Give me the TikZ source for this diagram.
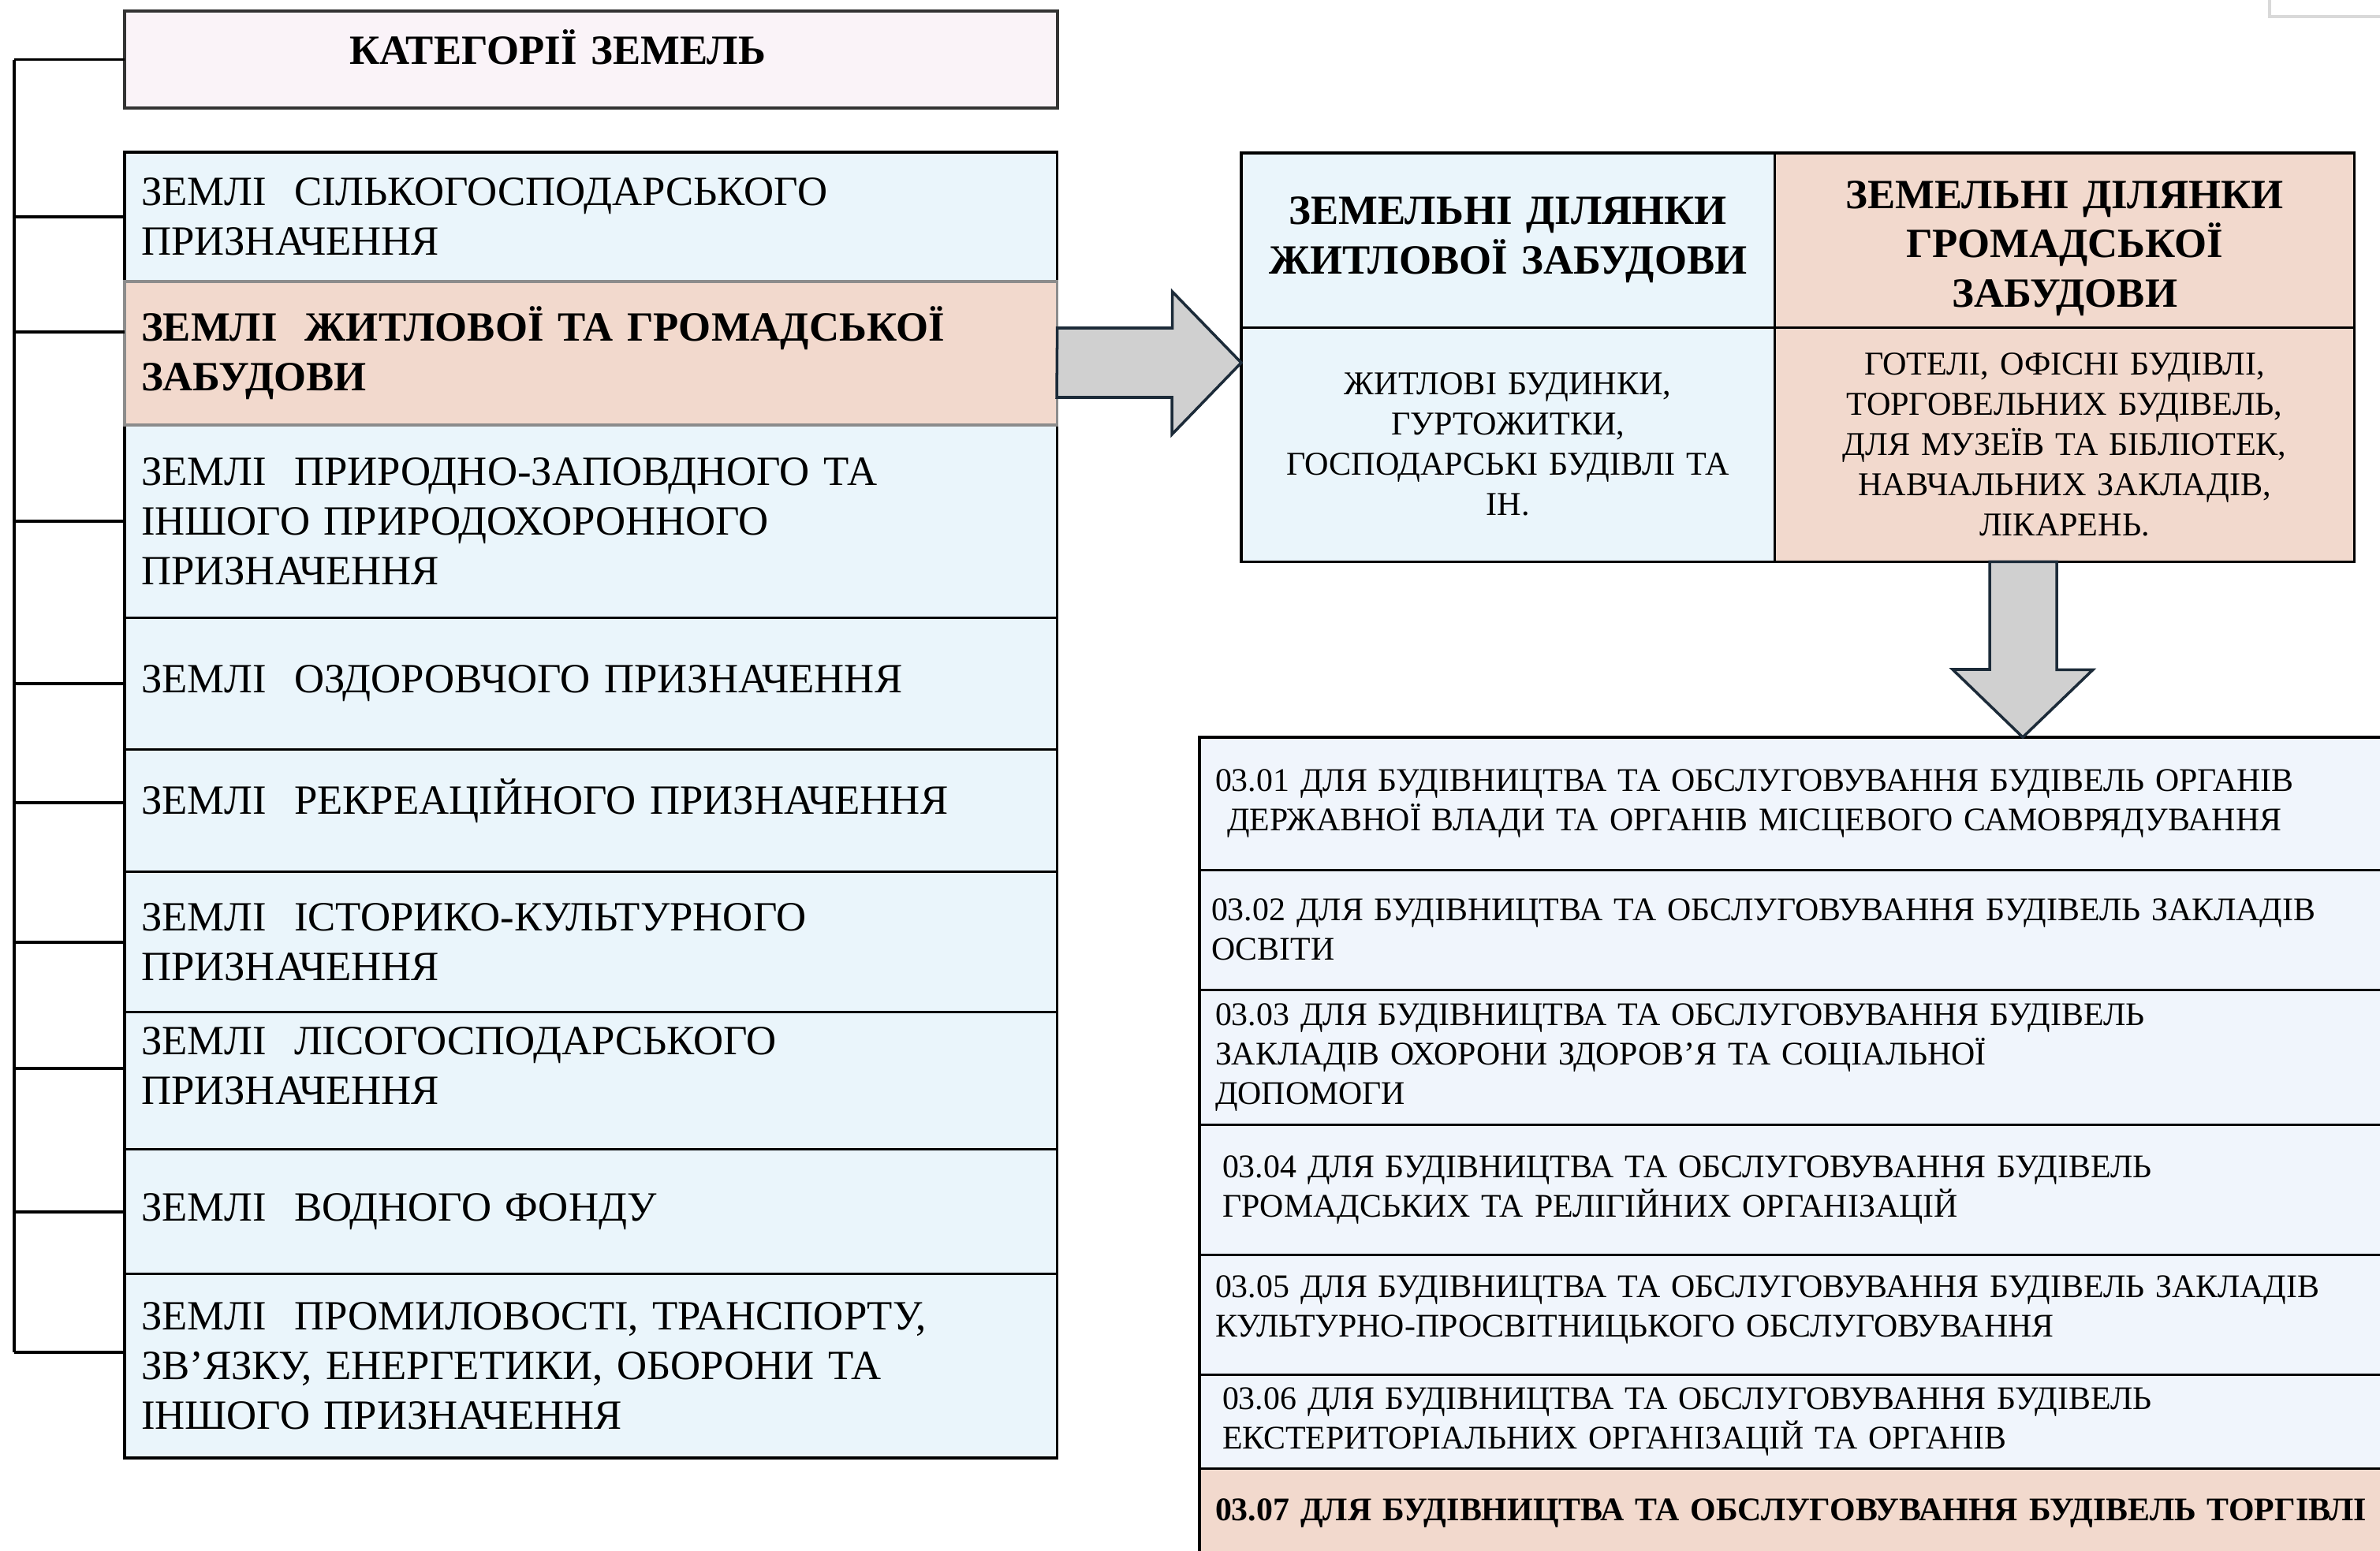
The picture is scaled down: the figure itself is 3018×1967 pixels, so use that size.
\documentclass[tikz,border=0pt]{standalone}
\usepackage{fontspec}
\setmainfont{Liberation Serif}
\usepackage{tikz}
\usetikzlibrary{calc,positioning}
\definecolor{rozh}{HTML}{FAF3F8}
\definecolor{blakyt}{HTML}{EAF5FB}
\definecolor{persyk}{HTML}{F2D9CD}
\definecolor{svitlo}{HTML}{F0F5FC}
\definecolor{siryi}{HTML}{D0D0D0}
\definecolor{temno}{HTML}{1C2B39}
\tikzset{
    zemlya/.style={draw,line width=0.9pt,fill=blakyt,outer sep=0pt,inner xsep=0.21cm,inner ysep=0pt,text width=11.40cm,align=left,minimum height=#1,node font=\fontsize{15pt}{17.9pt}\selectfont},
    zemlyavyb/.style={zemlya=#1,fill=persyk,node font=\bfseries\fontsize{15pt}{17.9pt}\selectfont},
    titul/.style={draw=black!80,line width=1.2pt,fill=rozh,outer sep=0pt,inner xsep=0.21cm,inner ysep=0pt,text width=11.40cm,align=left,minimum height=1.23cm,text depth=0.32cm,node font=\bfseries\fontsize{15pt}{17.9pt}\selectfont},
    klityna/.style={draw,line width=0.9pt,outer sep=0pt,inner xsep=0.15cm,inner ysep=0pt,align=center,text width=#1},
    tabholova/.style={klityna=#1,minimum height=2.21cm,node font=\bfseries\fontsize{15pt}{17.9pt}\selectfont},
    tabtilo/.style={klityna=#1,minimum height=2.97cm,node font=\fontsize{12pt}{14.5pt}\selectfont},
    punkt/.style={draw,line width=0.9pt,fill=svitlo,outer sep=0pt,inner xsep=0.2cm,inner ysep=0pt,text width=14.9cm,align=left,minimum height=#1,node font=\fontsize{11.9pt}{14.2pt}\selectfont},
    blokstr/.style={draw=temno,fill=siryi,line width=1pt,line join=miter},
    duzhka/.style={draw,line width=1.1pt},
}

\begin{document}
\begin{tikzpicture}[x=0.01cm,y=-0.01cm]
    \useasboundingbox (0,0) rectangle (3018,1967);
    \clip (0,0) rectangle (3018,1967);

    \node [titul,anchor=north west] (tit) at (158,14) {\hspace*{2.64cm}КАТЕГОРІЇ ЗЕМЕЛЬ};
    \node [zemlya=1.64cm,anchor=north west] (z1) at (158,193) {ЗЕМЛІ\ \ СІЛЬКОГОСПОДАРСЬКОГО\\ПРИЗНАЧЕННЯ};
    \node [zemlyavyb=1.82cm,below=0pt of z1] (z2) {ЗЕМЛІ\ \ ЖИТЛОВОЇ ТА ГРОМАДСЬКОЇ\\ЗАБУДОВИ};
    \node [zemlya=2.44cm,below=0pt of z2] (z3) {ЗЕМЛІ\ \ ПРИРОДНО-ЗАПОВДНОГО ТА\\ІНШОГО ПРИРОДОХОРОННОГО\\ПРИЗНАЧЕННЯ};
    \node [zemlya=1.67cm,below=0pt of z3] (z4) {ЗЕМЛІ\ \ ОЗДОРОВЧОГО ПРИЗНАЧЕННЯ};
    \node [zemlya=1.55cm,text depth=0.36cm,below=0pt of z4] (z5) {ЗЕМЛІ\ \ РЕКРЕАЦІЙНОГО ПРИЗНАЧЕННЯ};
    \node [zemlya=1.78cm,below=0pt of z5] (z6) {ЗЕМЛІ\ \ ІСТОРИКО-КУЛЬТУРНОГО\\ПРИЗНАЧЕННЯ};
    \node [zemlya=1.74cm,text depth=1.02cm,below=0pt of z6] (z7) {ЗЕМЛІ\ \ ЛІСОГОСПОДАРСЬКОГО\\ПРИЗНАЧЕННЯ};
    \node [zemlya=1.58cm,below=0pt of z7] (z8) {ЗЕМЛІ\ \ ВОДНОГО ФОНДУ};
    \node [zemlya=2.33cm,below=0pt of z8] (z9) {ЗЕМЛІ\ \ ПРОМИЛОВОСТІ, ТРАНСПОРТУ,\\ЗВ’ЯЗКУ, ЕНЕРГЕТИКИ, ОБОРОНИ ТА\\ІНШОГО ПРИЗНАЧЕННЯ};
    \draw [draw=black!45,line width=1pt] (z2.north west) rectangle (z2.south east);

    \coordinate (bus) at (18,0);
    \foreach \n/\s in {tit/0,z1/0,z2/0.27,z3/0,z4/0,z5/0.1,z6/0,z7/0.16,z8/0,z9/0.17} {
        \coordinate (t\n) at ([yshift=\s cm]\n.west);
        \draw [duzhka] (bus |- t\n) -- (t\n);
    }
    \draw [duzhka] (bus |- ttit) -- (bus |- tz9);

    \node [tabholova=6.46cm,fill=blakyt,anchor=north west] (hz) at (1574,194) {ЗЕМЕЛЬНІ ДІЛЯНКИ\\ЖИТЛОВОЇ ЗАБУДОВИ};
    \node [tabholova=7.05cm,fill=persyk,text height=0.56cm,right=0pt of hz] (hg) {ЗЕМЕЛЬНІ ДІЛЯНКИ\\ГРОМАДСЬКОЇ\\ЗАБУДОВИ};
    \node [tabtilo=6.46cm,fill=blakyt,below=0pt of hz] (bz) {ЖИТЛОВІ БУДИНКИ,\\ГУРТОЖИТКИ,\\ГОСПОДАРСЬКІ БУДІВЛІ ТА\\ІН.};
    \node [tabtilo=7.05cm,fill=persyk,below=0pt of hg] (bg) {ГОТЕЛІ, ОФІСНІ БУДІВЛІ,\\ТОРГОВЕЛЬНИХ БУДІВЕЛЬ,\\ДЛЯ МУЗЕЇВ ТА БІБЛІОТЕК,\\НАВЧАЛЬНИХ ЗАКЛАДІВ,\\ЛІКАРЕНЬ.};

    \node [punkt=1.68cm,anchor=north west] (d1) at (1521,935) {03.01 ДЛЯ БУДІВНИЦТВА ТА ОБСЛУГОВУВАННЯ БУДІВЕЛЬ ОРГАНІВ\\\hspace*{0.15cm}ДЕРЖАВНОЇ ВЛАДИ ТА ОРГАНІВ МІСЦЕВОГО САМОВРЯДУВАННЯ};
    \node [punkt=1.52cm,below=0pt of d1] (d2) {\hspace*{-0.05cm}03.02 ДЛЯ БУДІВНИЦТВА ТА ОБСЛУГОВУВАННЯ БУДІВЕЛЬ ЗАКЛАДІВ\\\hspace*{-0.05cm}ОСВІТИ};
    \node [punkt=1.71cm,below=0pt of d2] (d3) {03.03 ДЛЯ БУДІВНИЦТВА ТА ОБСЛУГОВУВАННЯ БУДІВЕЛЬ\\ЗАКЛАДІВ ОХОРОНИ ЗДОРОВ’Я ТА СОЦІАЛЬНОЇ\\ДОПОМОГИ};
    \node [punkt=1.65cm,below=0pt of d3] (d4) {\hspace*{0.09cm}03.04 ДЛЯ БУДІВНИЦТВА ТА ОБСЛУГОВУВАННЯ БУДІВЕЛЬ\\\hspace*{0.09cm}ГРОМАДСЬКИХ ТА РЕЛІГІЙНИХ ОРГАНІЗАЦІЙ};
    \node [punkt=1.52cm,text depth=0.72cm,below=0pt of d4] (d5) {03.05 ДЛЯ БУДІВНИЦТВА ТА ОБСЛУГОВУВАННЯ БУДІВЕЛЬ ЗАКЛАДІВ\\КУЛЬТУРНО-ПРОСВІТНИЦЬКОГО ОБСЛУГОВУВАННЯ};
    \node [punkt=1.19cm,below=0pt of d5] (d6) {\hspace*{0.09cm}03.06 ДЛЯ БУДІВНИЦТВА ТА ОБСЛУГОВУВАННЯ БУДІВЕЛЬ\\\hspace*{0.09cm}ЕКСТЕРИТОРІАЛЬНИХ ОРГАНІЗАЦІЙ ТА ОРГАНІВ};
    \node [punkt=1.5cm,fill=persyk,font=\bfseries,text depth=0.46cm,below=0pt of d6] (d7) {03.07 ДЛЯ БУДІВНИЦТВА ТА ОБСЛУГОВУВАННЯ БУДІВЕЛЬ ТОРГІВЛІ};

    \coordinate (vistrya) at (hz.west |- 0,460);
    \draw [blokstr] (z2.east |- 0,416) -- ++(146,0) -- ++(0,-46) -- (vistrya) -- ++(-88,91) -- ++(0,-47) -- ++(-146,0) -- cycle;
    \coordinate (vistrya2) at (2565,0 |- d1.north);
    \draw [blokstr] (vistrya2) -- ++(-89,-86) -- ++(47,0) -- (2523,0 |- bg.south) -- ++(85,0) -- ++(0,137) -- ++(46,0) -- cycle;

    \draw [draw=black!15,line width=1.2pt,fill=white] (2878,-30) rectangle (3060,21);
\end{tikzpicture}
\end{document}
